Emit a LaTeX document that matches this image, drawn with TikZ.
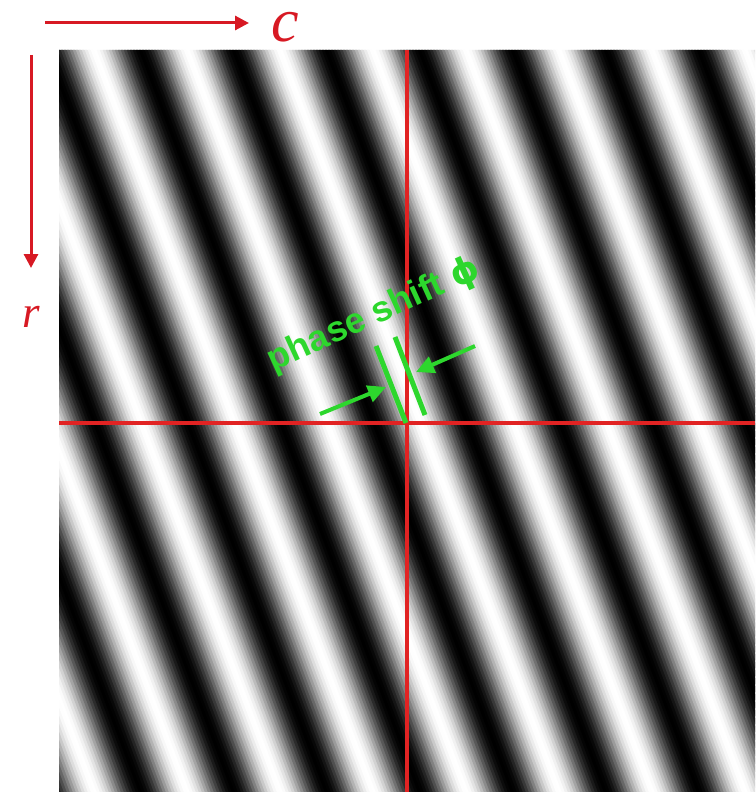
\documentclass[tikz,border=0pt]{standalone}
\usepackage{fontspec}
\setmainfont{Liberation Serif}
\newfontfamily\sansf{Liberation Sans}
\newfontfamily\dejaf{DejaVu Sans}
\usetikzlibrary{arrows.meta}
\definecolor{axred}{RGB}{215,25,35}
\definecolor{crossred}{RGB}{225,35,35}
\definecolor{gr}{RGB}{45,215,45}
\begin{document}
\begin{tikzpicture}[x=1pt,y=-1pt,
  axis/.style={draw=axred, line width=3pt, -{Triangle[length=14pt,width=14pt]}},
  cross/.style={draw=crossred, line width=3.2pt},
  shiftline/.style={draw=gr, line width=5pt},
  shiftarrow/.style={draw=gr, line width=4pt, -{Triangle[length=18pt,width=17pt]}},
  axlabel/.style={text=axred, inner sep=0pt, anchor=base},
  phaselabel/.style={text=gr, inner sep=0pt, anchor=base, font=\sansf\bfseries\fontsize{36}{36}\selectfont}]
\useasboundingbox (0,0) rectangle (755,792);
% grating
\begin{scope}
  \clip (59,50) rectangle (755,792);
  \fill[white] (59,50) rectangle (755,792);
  \foreach \i in {0,...,330}{
    \pgfmathsetmacro\u{-240+3*\i}
    \pgfmathsetmacro\g{50-50*cos(3.871*(\u-74.1))}
    \fill[black!\g] ({\u+18.8},50) -- ({\u+23.8},50) -- ({\u+302.8},792) -- ({\u+297.8},792) -- cycle;
  }
\end{scope}
% crosshair
\coordinate (vt) at (407,50);
\coordinate (vb) at (407,792);
\coordinate (hl) at (59,423);
\coordinate (hr) at (755,423);
\draw[cross] (vt) -- (vb);
\draw[cross] (hl) -- (hr);
% axes
\coordinate (cstart) at (45,23);
\coordinate (cend) at (249,23);
\coordinate (rstart) at (31,55);
\coordinate (rend) at (31,268);
\draw[axis] (cstart) -- (cend);
\draw[axis] (rstart) -- (rend);
\node[axlabel, font=\fontsize{62}{62}\selectfont\itshape] (clab) at (285,42) {c};
\node[axlabel, font=\fontsize{45}{45}\selectfont\itshape] (rlab) at (31,327) {r};
% phase shift
\coordinate (l1a) at (376,346);
\coordinate (l1b) at (406,423);
\coordinate (l2a) at (395,337);
\coordinate (l2b) at (425,415);
\draw[shiftline] (l1a) -- (l1b);
\draw[shiftline] (l2a) -- (l2b);
\coordinate (a1s) at (320,414);
\coordinate (a1e) at (386,387);
\coordinate (a2s) at (475,346);
\coordinate (a2e) at (416,372);
\draw[shiftarrow] (a1s) -- (a1e);
\draw[shiftarrow] (a2s) -- (a2e);
\node[phaselabel, rotate=24.4] (phase) at (378,324) {phase shift {\dejaf\bfseries ϕ}};
\end{tikzpicture}
\end{document}
